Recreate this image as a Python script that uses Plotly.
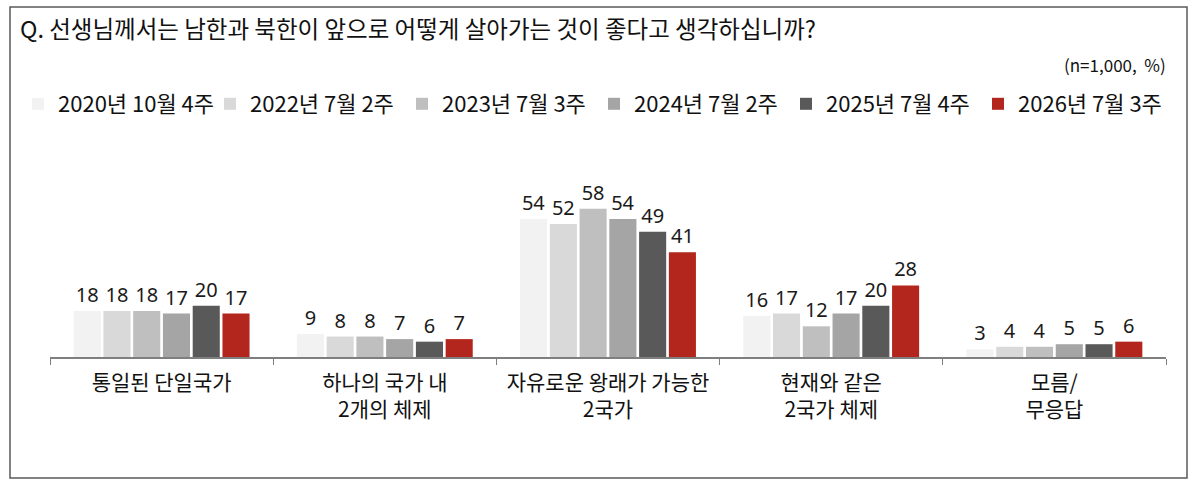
import plotly.graph_objects as go

# ---- data ----
categories = ["통일된 단일국가", "하나의 국가 내<br>2개의 체제", "자유로운 왕래가 가능한<br>2국가", "현재와 같은<br>2국가 체제", "모름/<br>무응답"]
series_names = ["2020년 10월 4주", "2022년 7월 2주", "2023년 7월 3주", "2024년 7월 2주", "2025년 7월 4주", "2026년 7월 3주"]
v2020 = [18, 9, 54, 16, 3]
v2022 = [18, 8, 52, 17, 4]
v2023 = [18, 8, 58, 12, 4]
v2024 = [17, 7, 54, 17, 5]
v2025 = [20, 6, 49, 20, 5]
v2026 = [17, 7, 41, 28, 6]
series_values = [v2020, v2022, v2023, v2024, v2025, v2026]
colors = ["#f2f2f2", "#d9d9d9", "#bfbfbf", "#a5a5a5", "#595959", "#b3261e"]

title_text = "Q. 선생님께서는 남한과 북한이 앞으로 어떻게 살아가는 것이 좋다고 생각하십니까?"
note_text = "(n=1,000,  %)"

# ---- layout constants ----
W, H = 1200, 486
ML, MR, MT, MB = 50, 34, 178, 129
PW, PH = W - ML - MR, H - MT - MB

def px_x(px):
    return (px - ML) / PW

def px_y(py):
    return (H - MB - py) / PH

KR = "Noto Sans CJK KR"

fig = go.Figure()
for name, vals, col in zip(series_names, series_values, colors):
    fig.add_trace(go.Bar(
        name=name, x=categories, y=vals,
        marker=dict(color=col, line=dict(width=0)),
        text=vals, textposition="outside",
        textfont=dict(family="Noto Sans", size=20, color="#1a1a1a"),
        cliponaxis=False,
    ))

fig.update_layout(
    width=W, height=H,
    margin=dict(l=ML, r=MR, t=MT, b=MB, autoexpand=False),
    paper_bgcolor="white", plot_bgcolor="white",
    barmode="group", bargap=0.2, bargroupgap=0.09,
    font=dict(family=KR, color="#111111"),
    title=dict(text=title_text, xref="container", yref="container",
               x=20 / W, xanchor="left", y=1 - 30 / H, yanchor="middle",
               font=dict(family=KR, size=23.5, color="#111111")),
    legend=dict(orientation="h", xref="paper", yref="paper",
                x=px_x(18), xanchor="left", y=px_y(104), yanchor="middle",
                font=dict(family=KR, size=22, color="#111111"),
                itemwidth=30, entrywidth=147, entrywidthmode="pixels",
                traceorder="normal", bgcolor="rgba(0,0,0,0)"),
    xaxis=dict(showline=True, linecolor="#7f7f7f", linewidth=1.5,
               ticks="outside", tickson="boundaries", ticklen=6, tickcolor="#7f7f7f",
               tickwidth=1.2, ticklabelstandoff=6,
               tickfont=dict(family=KR, size=21, color="#111111"),
               showgrid=False, fixedrange=True),
    yaxis=dict(range=[0, 70], visible=False, showgrid=False, fixedrange=True),
    annotations=[dict(text=note_text, xref="paper", yref="paper",
                      x=px_x(1168), y=px_y(65), xanchor="right", yanchor="middle",
                      showarrow=False, font=dict(family=KR, size=17, color="#111111"))],
    shapes=[dict(type="rect", xref="paper", yref="paper",
                 x0=px_x(10), x1=px_x(1187), y0=px_y(478), y1=px_y(7),
                 line=dict(color="#595959", width=1.5), fillcolor="rgba(0,0,0,0)", layer="below")],
)

fig.write_html("out.html")
